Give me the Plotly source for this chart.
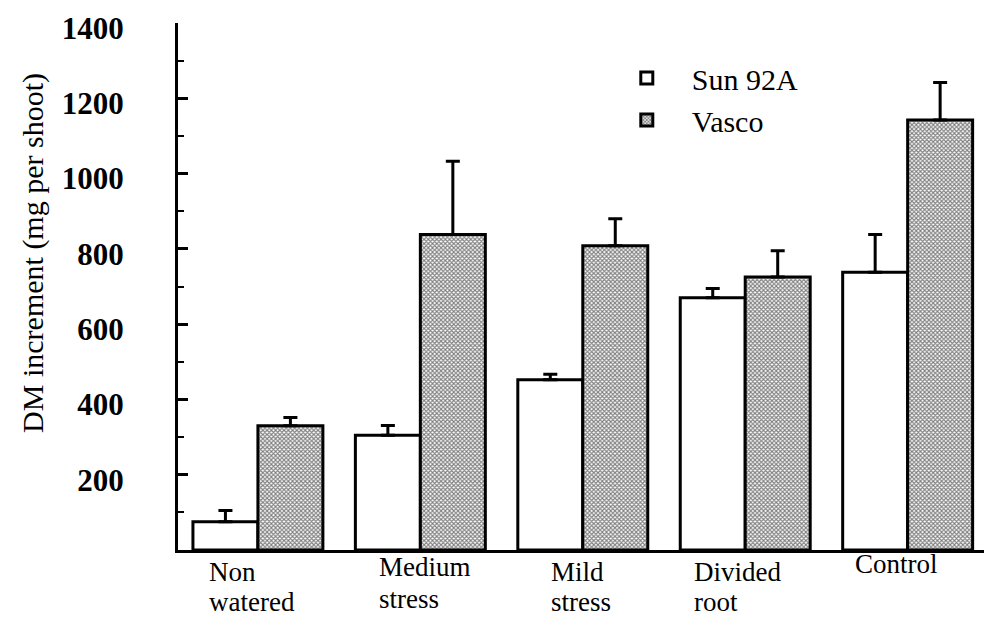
import plotly.graph_objects as go

# Dry-matter increment per shoot under each water regime
treatments = ["Non watered", "Medium stress", "Mild stress", "Divided root", "Control"]
sun_92a = [75, 305, 452, 670, 738]
sun_92a_err = [30, 26, 15, 25, 100]
vasco = [330, 838, 808, 725, 1142]
vasco_err = [22, 195, 72, 70, 100]
ytick_vals = [200, 400, 600, 800, 1000, 1200, 1400]

SERIF = "Liberation Serif"
x_idx = list(range(len(treatments)))

fig = go.Figure()
fig.add_trace(go.Bar(
    x=x_idx, y=sun_92a, name="Sun 92A",
    marker=dict(color="white", line=dict(color="black", width=3)),
    error_y=dict(type="data", symmetric=False, array=sun_92a_err,
                 arrayminus=[0] * len(sun_92a_err),
                 color="black", thickness=3, width=7),
))
fig.add_trace(go.Bar(
    x=x_idx, y=vasco, name="Vasco",
    marker=dict(color="white", line=dict(color="black", width=3),
                pattern=dict(shape="x", size=3, solidity=0.6,
                             fgcolor="black", bgcolor="white")),
    error_y=dict(type="data", symmetric=False, array=vasco_err,
                 arrayminus=[0] * len(vasco_err),
                 color="black", thickness=3, width=7),
))

# Category labels, left-aligned beneath each pair of bars
label_lines = [
    (0, -50, [("Non", -22), ("watered", -52)]),
    (1, -42, [("Medium", -17), ("stress", -49)]),
    (2, -33, [("Mild", -22), ("stress", -52)]),
    (3, -52, [("Divided", -22), ("root", -52)]),
    (4, -54, [("Control", -14)]),
]
annotations = []
for idx, dx, lines in label_lines:
    for txt, dy in lines:
        annotations.append(dict(
            x=idx, xref="x", y=0, yref="paper", xshift=dx, yshift=dy,
            xanchor="left", yanchor="middle", text=txt, showarrow=False,
            borderpad=0,
            font=dict(family=SERIF, size=27, color="black"),
        ))

annotations.append(dict(
    x=-0.18, xref="paper", y=0.5636, yref="paper",
    text="DM increment (mg per shoot)", textangle=-90, showarrow=False,
    xanchor="center", yanchor="middle",
    font=dict(family=SERIF, size=30, color="black"),
))

fig.update_layout(
    width=984, height=618,
    margin=dict(l=178, r=0, t=23, b=68),
    paper_bgcolor="white", plot_bgcolor="white",
    barmode="group", bargap=0.2, bargroupgap=0,
    showlegend=True,
    legend=dict(x=0.5258, y=0.945, xanchor="left", yanchor="top",
                bgcolor="rgba(0,0,0,0)", itemwidth=80,
                font=dict(family=SERIF, size=30, color="black")),
    annotations=annotations,
    xaxis=dict(range=[-0.492, 4.47], showline=True, linecolor="black",
               linewidth=3, showticklabels=False, ticks="", showgrid=False,
               zeroline=False),
    yaxis=dict(range=[0, 1400], showline=True, linecolor="black", linewidth=3,
               ticks="inside", ticklen=10, tickwidth=3, tickcolor="black",
               tickvals=ytick_vals, showgrid=False, zeroline=False,
               tickfont=dict(family=SERIF, size=31, color="black", weight="bold"),
               ticklabelstandoff=45, ticklabelshift=5,
               minor=dict(dtick=100, ticks="inside", ticklen=6, tickwidth=2,
                          tickcolor="black", showgrid=False)),
)

fig.write_html("out.html")
